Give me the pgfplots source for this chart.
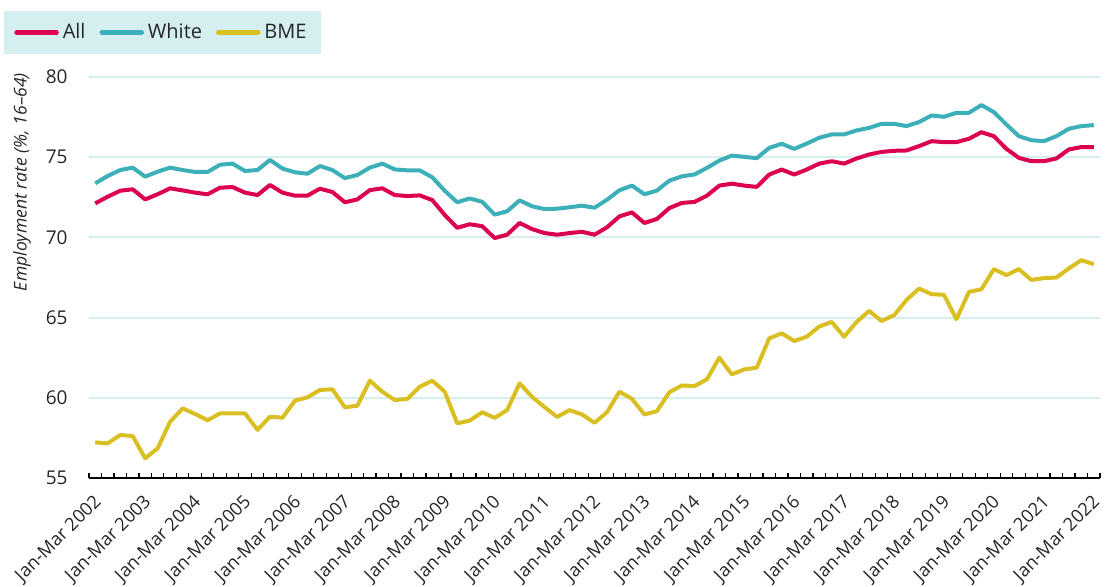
\documentclass[border=0pt]{standalone}
\usepackage{fontspec}
\setmainfont{Open Sans}
\usepackage{pgfplots}
\usepackage{pgfplotstable}
\pgfplotsset{compat=1.18}

\definecolor{allc}{HTML}{DC0050}
\definecolor{whitec}{HTML}{3CAFB9}
\definecolor{bmec}{HTML}{DABF23}
\definecolor{gridc}{HTML}{D5EFF1}
\definecolor{legbg}{HTML}{D5EFF1}
\definecolor{txt}{HTML}{262626}

% quarterly, Jan-Mar 2002 (0) to Jan-Mar 2022 (80)
\pgfplotstableread{
i  all    white  bme
0  72.12  73.37  57.22
1  72.54  73.83  57.16
2  72.91  74.20  57.68
3  73.00  74.35  57.62
4  72.37  73.79  56.23
5  72.69  74.10  56.85
6  73.06  74.35  58.51
7  72.93  74.20  59.34
8  72.79  74.08  58.99
9  72.69  74.08  58.60
10 73.10  74.53  59.03
11 73.14  74.60  59.03
12 72.79  74.14  59.03
13 72.64  74.20  58.00
14 73.27  74.83  58.82
15 72.79  74.29  58.76
16 72.60  74.06  59.82
17 72.60  73.97  60.03
18 73.04  74.45  60.49
19 72.83  74.20  60.53
20 72.19  73.70  59.41
21 72.37  73.89  59.51
22 72.95  74.35  61.07
23 73.06  74.60  60.38
24 72.64  74.24  59.86
25 72.58  74.18  59.93
26 72.62  74.18  60.69
27 72.33  73.75  61.07
28 71.40  72.91  60.38
29 70.60  72.19  58.41
30 70.82  72.43  58.58
31 70.70  72.22  59.10
32 69.96  71.42  58.75
33 70.17  71.63  59.23
34 70.90  72.31  60.90
35 70.52  71.94  60.06
36 70.27  71.77  59.42
37 70.17  71.79  58.81
38 70.27  71.88  59.23
39 70.35  71.98  58.96
40 70.17  71.85  58.44
41 70.63  72.35  59.10
42 71.31  72.94  60.38
43 71.56  73.23  59.94
44 70.90  72.69  58.96
45 71.15  72.92  59.17
46 71.83  73.54  60.35
47 72.15  73.81  60.77
48 72.21  73.92  60.73
49 72.60  74.33  61.15
50 73.23  74.79  62.50
51 73.35  75.10  61.46
52 73.23  75.02  61.77
53 73.15  74.94  61.88
54 73.92  75.58  63.71
55 74.23  75.84  64.02
56 73.92  75.52  63.54
57 74.23  75.85  63.81
58 74.60  76.21  64.44
59 74.75  76.42  64.73
60 74.60  76.42  63.81
61 74.92  76.67  64.73
62 75.17  76.83  65.42
63 75.33  77.08  64.79
64 75.40  77.08  65.15
65 75.42  76.94  66.10
66 75.69  77.19  66.81
67 76.00  77.60  66.46
68 75.94  77.52  66.42
69 75.94  77.77  64.90
70 76.15  77.77  66.60
71 76.56  78.25  66.77
72 76.31  77.81  68.02
73 75.52  77.04  67.65
74 74.96  76.31  68.02
75 74.75  76.06  67.35
76 74.75  76.00  67.46
77 74.92  76.31  67.50
78 75.48  76.77  68.06
79 75.63  76.94  68.58
80 75.63  77.00  68.33
}\data

\begin{document}
\begin{tikzpicture}
\useasboundingbox (0,0) rectangle (553.5pt,293pt);
\begin{axis}[
    at={(44.5pt,54pt)}, anchor=south west,
    scale only axis, width=505.5pt, height=200.5pt,
    xmin=-0.5, xmax=80.5, ymin=55, ymax=80,
    axis lines*=left,
    y axis line style={draw=none},
    x axis line style={line width=1pt, black, -},
    ytick={55,60,...,80},
    ytick style={draw=none},
    ymajorgrids,
    grid style={gridc, line width=1pt},
    xtick={0,4,...,80},
    xticklabels={Jan-Mar 2002,Jan-Mar 2003,Jan-Mar 2004,Jan-Mar 2005,Jan-Mar 2006,Jan-Mar 2007,Jan-Mar 2008,Jan-Mar 2009,Jan-Mar 2010,Jan-Mar 2011,Jan-Mar 2012,Jan-Mar 2013,Jan-Mar 2014,Jan-Mar 2015,Jan-Mar 2016,Jan-Mar 2017,Jan-Mar 2018,Jan-Mar 2019,Jan-Mar 2020,Jan-Mar 2021,Jan-Mar 2022},
    major x tick style={draw=none},
    minor xtick={-0.5,0.5,...,80.5},
    minor x tick style={black, line width=0.6pt},
    minor tick length=2.5pt,
    tick align=inside,
    /pgf/number format/assume math mode=true,
    yticklabel style={font=\fontsize{9.5}{11}\selectfont, text=txt, inner sep=0pt, xshift=-10.5pt},
    xticklabel style={font=\fontsize{9.1}{11}\selectfont, text=txt, inner sep=0pt, xshift=1.75pt, yshift=-10.5pt, rotate=45, anchor=east},
    ylabel={Employment rate (\%, 16--64)},
    ylabel style={at={(axis description cs:-0.0663,0.738)}, anchor=center, font=\fontsize{8.8}{10}\selectfont\itshape, text=txt},
    legend style={at={(axis description cs:-0.0841,1.1646)}, anchor=north west,
        fill=legbg, draw=none, legend columns=-1, inner xsep=5pt, inner ysep=4pt,
        font=\fontsize{10}{12}\selectfont, text=txt,
        /tikz/every even column/.append style={column sep=5pt}},
    legend image code/.code={\draw[#1, line width=2.2pt, line cap=round] (0pt,0pt) -- (20pt,0pt);},
    every axis plot/.append style={line width=2pt, line join=round},
]
\addplot[allc] table[x=i, y=all] {\data};
\addplot[whitec] table[x=i, y=white] {\data};
\addplot[bmec] table[x=i, y=bme] {\data};
\legend{All,White,BME}
\end{axis}
\end{tikzpicture}
\end{document}
